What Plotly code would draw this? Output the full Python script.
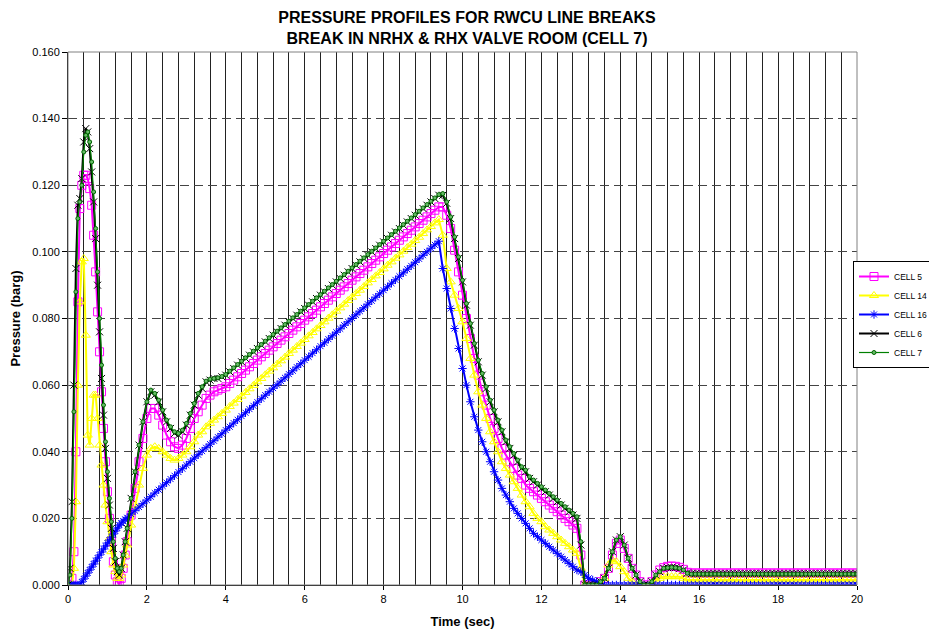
import numpy as np
import plotly.graph_objects as go

# Time samples (s): 0.05 s steps up to 1.45 s, then 0.1 s steps to 20 s
time_s = np.round(np.r_[np.arange(0, 1.5, 0.05), np.arange(1.5, 20.001, 0.1)], 2)

cell5 = [
    0.000, 0.000, 0.002, 0.010, 0.040, 0.085, 0.113, 0.120, 0.123, 0.123,
    0.122, 0.119, 0.114, 0.105, 0.094, 0.082, 0.070, 0.058, 0.047, 0.037,
    0.028, 0.020, 0.013, 0.007, 0.003, 0.001, 0.000, 0.002, 0.005, 0.009,
    0.013, 0.021, 0.029, 0.037, 0.044, 0.050, 0.053, 0.053, 0.051, 0.048,
    0.045, 0.043, 0.0415, 0.041, 0.042, 0.044, 0.047, 0.050, 0.052, 0.054,
    0.056, 0.057, 0.058, 0.0585, 0.059, 0.0595,
    0.0605, 0.0615, 0.0625, 0.0635, 0.0645, 0.0655, 0.0665, 0.0675, 0.0685, 0.0695,
    0.0705, 0.0715, 0.0725, 0.0735, 0.0745, 0.0755, 0.0765, 0.0775, 0.0785, 0.0795,
    0.0805, 0.0815, 0.0825, 0.0835, 0.0845, 0.0855, 0.0865, 0.0875, 0.0885, 0.0895,
    0.0905, 0.0915, 0.0925, 0.0935, 0.0945, 0.0955, 0.0965, 0.0975, 0.0985, 0.0995,
    0.1005, 0.1015, 0.1025, 0.1035, 0.1045, 0.1055, 0.1065, 0.1075, 0.1085, 0.1095,
    0.1105, 0.1115, 0.1125, 0.1135,
    0.1135, 0.111, 0.107, 0.1005, 0.094, 0.087, 0.080, 0.074, 0.068, 0.063,
    0.058, 0.054, 0.050, 0.047, 0.044, 0.041, 0.039, 0.037, 0.035, 0.033,
    0.032, 0.030, 0.029, 0.028, 0.027, 0.026, 0.025, 0.024, 0.023, 0.022,
    0.021, 0.020, 0.019, 0.018, 0.017, 0.009,
    0.000, 0.000, 0.000, 0.000, 0.001, 0.002, 0.005, 0.009, 0.0125, 0.0135,
    0.011, 0.008, 0.005, 0.003, 0.001, 0.000, 0.000, 0.001, 0.003, 0.0045,
    0.0052, 0.0056, 0.0057, 0.0056, 0.0053, 0.0047, 0.0038,
    0.0036, 0.0036, 0.0036, 0.0036, 0.0036, 0.0036, 0.0036, 0.0036, 0.0036, 0.0036,
    0.0036, 0.0036, 0.0036, 0.0036, 0.0036, 0.0036, 0.0036, 0.0036, 0.0036, 0.0036,
    0.0036, 0.0036, 0.0036, 0.0036, 0.0036, 0.0036, 0.0036, 0.0036, 0.0036, 0.0036,
    0.0036, 0.0036, 0.0036, 0.0036, 0.0036, 0.0036, 0.0036, 0.0036, 0.0036, 0.0036,
    0.0036, 0.0036, 0.0036,
]

cell14 = [
    0.000, 0.000, 0.000, 0.005, 0.025, 0.060, 0.085, 0.097, 0.098, 0.075,
    0.045, 0.042, 0.050, 0.057, 0.057, 0.050, 0.042, 0.036, 0.030, 0.024,
    0.019, 0.014, 0.010, 0.006, 0.004, 0.002, 0.002, 0.003, 0.006, 0.009,
    0.012, 0.018, 0.024, 0.030, 0.035, 0.039, 0.041, 0.0415, 0.041, 0.040,
    0.039, 0.038, 0.0375, 0.038, 0.039, 0.040, 0.0415, 0.043, 0.045, 0.046,
    0.0475, 0.0485, 0.0495, 0.0505, 0.0515, 0.0525,
    0.0536, 0.0546, 0.0557, 0.0567, 0.0578, 0.0589, 0.0599, 0.0610, 0.0620, 0.0631,
    0.0642, 0.0652, 0.0663, 0.0673, 0.0684, 0.0695, 0.0705, 0.0716, 0.0726, 0.0737,
    0.0748, 0.0758, 0.0769, 0.0779, 0.0790, 0.0801, 0.0811, 0.0822, 0.0832, 0.0843,
    0.0854, 0.0864, 0.0875, 0.0885, 0.0896, 0.0907, 0.0917, 0.0928, 0.0938, 0.0949,
    0.0960, 0.0970, 0.0981, 0.0991, 0.1002, 0.1013, 0.1023, 0.1034, 0.1044, 0.1055,
    0.1066, 0.1076, 0.1087, 0.1097,
    0.105, 0.095, 0.091, 0.087, 0.083, 0.079, 0.074, 0.068, 0.063, 0.058,
    0.054, 0.050, 0.046, 0.043, 0.040, 0.037, 0.035, 0.033, 0.031, 0.029,
    0.027, 0.025, 0.0235, 0.0215, 0.020, 0.019, 0.0175, 0.0165, 0.0155, 0.0145,
    0.0135, 0.0125, 0.0115, 0.0105, 0.0095, 0.005,
    0.000, 0.000, 0.000, 0.000, 0.000, 0.002, 0.006, 0.0075, 0.007, 0.0055,
    0.004, 0.002, 0.001, 0.000, 0.000, 0.000, 0.000, 0.0005, 0.0015, 0.002,
    0.0025, 0.0025, 0.0025, 0.0025, 0.0025, 0.002, 0.0015,
    0.0015, 0.0015, 0.0015, 0.0015, 0.0015, 0.0015, 0.0015, 0.0015, 0.0015, 0.0015,
    0.0015, 0.0015, 0.0015, 0.0015, 0.0015, 0.0015, 0.0015, 0.0015, 0.0015, 0.0015,
    0.0015, 0.0015, 0.0015, 0.0015, 0.0015, 0.0015, 0.0015, 0.0015, 0.0015, 0.0015,
    0.0015, 0.0015, 0.0015, 0.0015, 0.0015, 0.0015, 0.0015, 0.0015, 0.0015, 0.0015,
    0.0015, 0.0015, 0.0015,
]

cell16 = [
    0.000, 0.000, 0.000, 0.000, 0.000, 0.000, 0.000, 0.0009, 0.0018, 0.0027,
    0.0036, 0.0045, 0.0054, 0.0063, 0.0072, 0.0081, 0.0090, 0.0099, 0.0108, 0.0117,
    0.0126, 0.0135, 0.0144, 0.0153, 0.0162, 0.0171, 0.0180, 0.0186, 0.0192, 0.0197,
    0.0202, 0.0213, 0.0223, 0.0234, 0.0244, 0.0255, 0.0265, 0.0276, 0.0286, 0.0297,
    0.0307, 0.0318, 0.0328, 0.0339, 0.0349, 0.0360, 0.0370, 0.0381, 0.0391, 0.0402,
    0.0412, 0.0423, 0.0433, 0.0444, 0.0454, 0.0465,
    0.0475, 0.0486, 0.0496, 0.0507, 0.0517, 0.0528, 0.0538, 0.0549, 0.0559, 0.0570,
    0.0580, 0.0591, 0.0601, 0.0612, 0.0622, 0.0633, 0.0643, 0.0654, 0.0664, 0.0675,
    0.0685, 0.0696, 0.0706, 0.0717, 0.0727, 0.0738, 0.0748, 0.0759, 0.0769, 0.0780,
    0.0790, 0.0801, 0.0811, 0.0822, 0.0832, 0.0843, 0.0853, 0.0864, 0.0874, 0.0885,
    0.0895, 0.0906, 0.0916, 0.0927, 0.0937, 0.0948, 0.0958, 0.0969, 0.0979, 0.0990,
    0.1000, 0.1011, 0.1021, 0.1032,
    0.095, 0.089, 0.083, 0.077, 0.071, 0.065, 0.060, 0.055, 0.0505, 0.0465,
    0.043, 0.040, 0.037, 0.034, 0.0315, 0.029, 0.027, 0.025, 0.023, 0.0215,
    0.020, 0.0185, 0.017, 0.0155, 0.0145, 0.0135, 0.0125, 0.0115, 0.0105, 0.0095,
    0.0085, 0.0075, 0.0065, 0.0055, 0.0045, 0.004,
    0.003, 0.002, 0.0015, 0.001, 0.0005, 0.000, 0.000, 0.000, 0.000, 0.000,
    0.000, 0.000, 0.000, 0.000, 0.000, 0.000, 0.000, 0.000, 0.000, 0.000,
    0.000, 0.000, 0.000, 0.000, 0.000, 0.000, 0.000,
    0.000, 0.000, 0.000, 0.000, 0.000, 0.000, 0.000, 0.000, 0.000, 0.000,
    0.000, 0.000, 0.000, 0.000, 0.000, 0.000, 0.000, 0.000, 0.000, 0.000,
    0.000, 0.000, 0.000, 0.000, 0.000, 0.000, 0.000, 0.000, 0.000, 0.000,
    0.000, 0.000, 0.000, 0.000, 0.000, 0.000, 0.000, 0.000, 0.000, 0.000,
    0.000, 0.000, 0.000,
]

cell6 = [
    0.000, 0.005, 0.025, 0.060, 0.095, 0.114, 0.116, 0.122, 0.133, 0.137,
    0.136, 0.131, 0.124, 0.115, 0.104, 0.090, 0.076, 0.062, 0.051, 0.041,
    0.032, 0.024, 0.017, 0.011, 0.007, 0.004, 0.003, 0.005, 0.009, 0.013,
    0.017, 0.026, 0.034, 0.042, 0.049, 0.055, 0.058, 0.057, 0.055, 0.052,
    0.049, 0.047, 0.0455, 0.045, 0.046, 0.048, 0.051, 0.054, 0.057, 0.059,
    0.061, 0.0615, 0.062, 0.062, 0.0625, 0.063,
    0.064, 0.065, 0.066, 0.067, 0.068, 0.069, 0.070, 0.071, 0.072, 0.073,
    0.074, 0.075, 0.076, 0.077, 0.078, 0.079, 0.080, 0.081, 0.082, 0.083,
    0.084, 0.085, 0.086, 0.087, 0.088, 0.089, 0.090, 0.091, 0.092, 0.093,
    0.094, 0.095, 0.096, 0.097, 0.098, 0.099, 0.100, 0.101, 0.102, 0.103,
    0.104, 0.105, 0.106, 0.107, 0.108, 0.109, 0.110, 0.111, 0.112, 0.113,
    0.114, 0.115, 0.116, 0.117,
    0.117, 0.1146, 0.110, 0.104, 0.098, 0.091, 0.084, 0.078, 0.072, 0.067,
    0.063, 0.059, 0.055, 0.052, 0.049, 0.046, 0.043, 0.041, 0.039, 0.037,
    0.035, 0.034, 0.032, 0.031, 0.030, 0.029, 0.028, 0.027, 0.026, 0.025,
    0.024, 0.023, 0.022, 0.021, 0.020, 0.012,
    0.000, 0.000, 0.000, 0.000, 0.001, 0.002, 0.005, 0.010, 0.0135, 0.0145,
    0.012, 0.008, 0.005, 0.003, 0.001, 0.000, 0.000, 0.001, 0.003, 0.004,
    0.005, 0.0052, 0.0053, 0.0052, 0.005, 0.0045, 0.0036,
    0.0034, 0.0034, 0.0034, 0.0034, 0.0034, 0.0034, 0.0034, 0.0034, 0.0034, 0.0034,
    0.0034, 0.0034, 0.0034, 0.0034, 0.0034, 0.0034, 0.0034, 0.0034, 0.0034, 0.0034,
    0.0034, 0.0034, 0.0034, 0.0034, 0.0034, 0.0034, 0.0034, 0.0034, 0.0034, 0.0034,
    0.0034, 0.0034, 0.0034, 0.0034, 0.0034, 0.0034, 0.0034, 0.0034, 0.0034, 0.0034,
    0.0034, 0.0034, 0.0034,
]

cell7 = [
    0.000, 0.003, 0.020, 0.052, 0.088, 0.110, 0.115, 0.120, 0.130, 0.135,
    0.136, 0.133, 0.127, 0.118, 0.107, 0.094, 0.080, 0.066, 0.054, 0.043,
    0.034, 0.026, 0.019, 0.013, 0.008, 0.005, 0.004, 0.005, 0.009, 0.013,
    0.017, 0.026, 0.034, 0.042, 0.049, 0.055, 0.0585, 0.0575, 0.0555, 0.0525,
    0.0495, 0.0475, 0.046, 0.0455, 0.0465, 0.0485, 0.0515, 0.0545, 0.0575, 0.0595,
    0.0612, 0.0618, 0.062, 0.0622, 0.0626, 0.0632,
    0.0642, 0.0652, 0.0662, 0.0672, 0.0682, 0.0692, 0.0702, 0.0712, 0.0722, 0.0732,
    0.0742, 0.0752, 0.0762, 0.0772, 0.0782, 0.0792, 0.0802, 0.0812, 0.0822, 0.0832,
    0.0842, 0.0852, 0.0862, 0.0872, 0.0882, 0.0892, 0.0902, 0.0912, 0.0922, 0.0932,
    0.0942, 0.0952, 0.0962, 0.0972, 0.0982, 0.0992, 0.1002, 0.1012, 0.1022, 0.1032,
    0.1042, 0.1052, 0.1062, 0.1072, 0.1082, 0.1092, 0.1102, 0.1112, 0.1122, 0.1132,
    0.1142, 0.1152, 0.1162, 0.1172,
    0.1175, 0.115, 0.1105, 0.1045, 0.0985, 0.0915, 0.0845, 0.0785, 0.0725, 0.0675,
    0.0635, 0.0595, 0.0555, 0.0525, 0.0495, 0.0465, 0.0435, 0.0415, 0.0395, 0.0375,
    0.0355, 0.0345, 0.0325, 0.0315, 0.0305, 0.0295, 0.0285, 0.0275, 0.0265, 0.0255,
    0.0245, 0.0235, 0.0225, 0.0215, 0.0205, 0.013,
    0.000, 0.000, 0.000, 0.000, 0.001, 0.002, 0.005, 0.010, 0.0135, 0.0145,
    0.012, 0.008, 0.005, 0.003, 0.001, 0.000, 0.000, 0.001, 0.003, 0.004,
    0.005, 0.0052, 0.0053, 0.0052, 0.005, 0.0045, 0.0035,
    0.0033, 0.0033, 0.0033, 0.0033, 0.0033, 0.0033, 0.0033, 0.0033, 0.0033, 0.0033,
    0.0033, 0.0033, 0.0033, 0.0033, 0.0033, 0.0033, 0.0033, 0.0033, 0.0033, 0.0033,
    0.0033, 0.0033, 0.0033, 0.0033, 0.0033, 0.0033, 0.0033, 0.0033, 0.0033, 0.0033,
    0.0033, 0.0033, 0.0033, 0.0033, 0.0033, 0.0033, 0.0033, 0.0033, 0.0033, 0.0033,
    0.0033, 0.0033, 0.0033,
]

for s in (cell5, cell14, cell16, cell6, cell7):
    assert len(s) == len(time_s), (len(s), len(time_s))

x_tick_vals = [0, 2, 4, 6, 8, 10, 12, 14, 16, 18, 20]
y_tick_vals = [0.0, 0.02, 0.04, 0.06, 0.08, 0.10, 0.12, 0.14, 0.16]

FONT = "Liberation Sans, Arial, sans-serif"

series = [
    ("CELL 5", cell5, "#FF00FF", dict(symbol="square-open", size=8, line=dict(width=1, color="#FF00FF")), 2),
    ("CELL 14", cell14, "#FFFF00", dict(symbol="triangle-up-open", size=8, line=dict(width=1, color="#FFFF00")), 2),
    ("CELL 16", cell16, "#0000FF", dict(symbol="asterisk-open", size=7, line=dict(width=1, color="#0000FF")), 2),
    ("CELL 6", cell6, "#000000", dict(symbol="x-thin-open", size=7, line=dict(width=1, color="#000000")), 2),
    ("CELL 7", cell7, "#008000", dict(symbol="circle", size=4, color="#66bb66", line=dict(width=1, color="#006400")), 1.2),
]

fig = go.Figure()
for name, vals, color, marker, lw in series:
    m = dict(marker)
    m.setdefault("color", color)
    fig.add_trace(go.Scatter(x=time_s, y=vals, name=name, mode="lines+markers",
                             line=dict(color=color, width=lw), marker=m))

# The page adds an 8 px body margin, so the figure is 8 px smaller and margins offset.
W, H = 929, 626
fig.update_layout(
    width=W, height=H,
    margin=dict(l=60, r=80, t=44, b=49, autoexpand=False),
    paper_bgcolor="white", plot_bgcolor="white",
    font=dict(family=FONT, color="black", size=11),
    title=dict(text="<b>PRESSURE PROFILES FOR RWCU LINE BREAKS<br>BREAK IN NRHX & RHX VALVE ROOM (CELL 7)</b>",
               x=(467 - 8) / W, xanchor="center", y=1 - 15 / H, yanchor="middle",
               font=dict(size=16, family=FONT)),
    showlegend=True,
    legend=dict(x=(926 - 60) / 789, y=0.5075, xanchor="right", yanchor="middle",
                bordercolor="black", borderwidth=1, bgcolor="white",
                font=dict(size=8.5, family=FONT), itemwidth=30, tracegroupgap=0),
)

fig.update_xaxes(
    range=[0, 20], tickvals=x_tick_vals, ticktext=[str(v) for v in x_tick_vals],
    ticks="outside", ticklen=4, tickcolor="black", automargin=False,
    showline=True, linecolor="black", linewidth=1,
    showgrid=True, gridcolor="#222", gridwidth=1,
    minor=dict(tick0=0, dtick=0.4, showgrid=True, gridcolor="#222", gridwidth=1, ticks=""),
    zeroline=False, tickfont=dict(size=11),
    title=dict(text="<b>Time (sec)</b>", font=dict(size=13), standoff=12),
)
fig.update_yaxes(
    range=[0, 0.16], tickvals=y_tick_vals, tickformat=".3f",
    ticks="outside", ticklen=5, tickcolor="black", automargin=False,
    showline=True, linecolor="black", linewidth=1,
    showgrid=True, gridcolor="#444", gridwidth=1, griddash="9px,5px",
    zeroline=False, tickfont=dict(size=11),
    title=dict(text="<b>Pressure (barg)</b>", font=dict(size=13), standoff=10),
)

fig.add_shape(type="rect", xref="paper", yref="paper", x0=0, y0=0, x1=1, y1=1,
              line=dict(color="#808080", width=1), layer="above")

fig.write_html("out.html")
